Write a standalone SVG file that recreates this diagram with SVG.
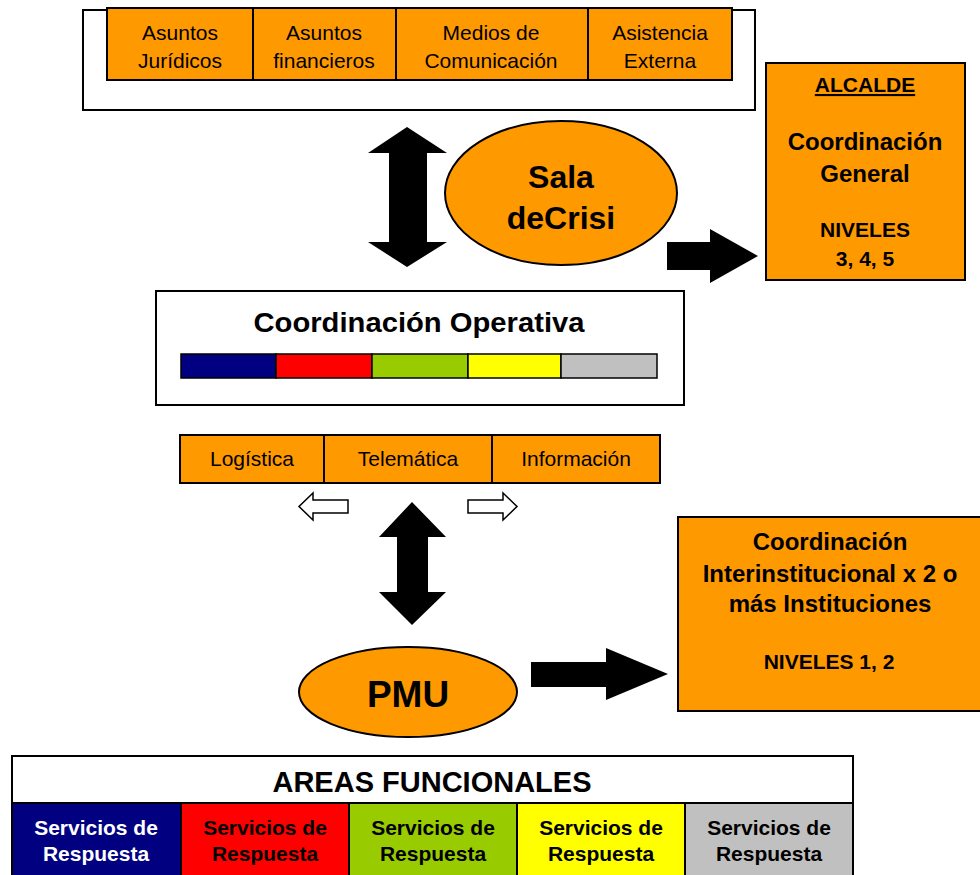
<svg xmlns="http://www.w3.org/2000/svg" width="980" height="875" viewBox="0 0 980 875">
<style>
.t{font-family:"Liberation Sans",Arial,sans-serif;text-anchor:middle;fill:#000}
.n{font-size:21px}
.b{font-weight:bold}
.org{fill:#FF9900;stroke:#000;stroke-width:2}
.wb{fill:#fff;stroke:#000;stroke-width:2}
.arr{fill:#000;stroke:none}
.harr{fill:#fff;stroke:#000;stroke-width:1.5}
</style>
<rect width="980" height="875" fill="#fff"/>
<g id="apoyo">
<rect class="wb" x="83" y="10" width="672" height="100"/>
<rect class="org" x="107" y="8" width="146" height="72"/>
<rect class="org" x="253" y="8" width="143" height="72"/>
<rect class="org" x="396" y="8" width="192" height="72"/>
<rect class="org" x="588" y="8" width="144" height="72"/>
<text class="t n" x="180" y="40">Asuntos</text><text class="t n" x="180" y="68">Jurídicos</text>
<text class="t n" x="324" y="40">Asuntos</text><text class="t n" x="324" y="68">financieros</text>
<text class="t n" x="491" y="40">Medios de</text><text class="t n" x="491" y="68">Comunicación</text>
<text class="t n" x="660" y="40">Asistencia</text><text class="t n" x="660" y="68">Externa</text>
</g>
<g id="sala">
<ellipse class="org" cx="561" cy="193" rx="116" ry="72"/>
<text class="t b" x="561" y="188" font-size="32">Sala</text>
<text class="t b" x="561" y="229" font-size="32">deCrisi</text>
</g>
<g id="alcalde">
<rect class="org" x="766" y="63" width="199" height="217"/>
<text class="t b" x="865" y="92" font-size="21" text-decoration="underline">ALCALDE</text>
<text class="t b" x="865" y="150" font-size="24">Coordinación</text>
<text class="t b" x="865" y="182" font-size="24">General</text>
<text class="t b" x="865" y="237" font-size="21">NIVELES</text>
<text class="t b" x="865" y="266" font-size="21">3, 4, 5</text>
</g>
<g id="coord-operativa">
<rect class="wb" x="156" y="291" width="528" height="114"/>
<text class="t b" x="419" y="332" font-size="27" textLength="331" lengthAdjust="spacingAndGlyphs">Coordinación Operativa</text>
<rect x="181" y="354" width="95" height="24" fill="#000080" stroke="#000" stroke-width="1.5"/>
<rect x="276" y="354" width="96" height="24" fill="#FF0000" stroke="#000" stroke-width="1.5"/>
<rect x="372" y="354" width="96" height="24" fill="#99CC00" stroke="#000" stroke-width="1.5"/>
<rect x="468" y="354" width="93" height="24" fill="#FFFF00" stroke="#000" stroke-width="1.5"/>
<rect x="561" y="354" width="96" height="24" fill="#C0C0C0" stroke="#000" stroke-width="1.5"/>
</g>
<g id="soporte">
<rect class="org" x="180" y="435" width="144" height="48" stroke-width="1.5"/>
<rect class="org" x="324" y="435" width="168" height="48" stroke-width="1.5"/>
<rect class="org" x="492" y="435" width="168" height="48" stroke-width="1.5"/>
<text class="t n" x="252" y="466">Logística</text>
<text class="t n" x="408" y="466">Telemática</text>
<text class="t n" x="576" y="466">Información</text>
</g>
<g id="pmu">
<ellipse class="org" cx="408" cy="692" rx="109" ry="45"/>
<text class="t b" x="408" y="707" font-size="37">PMU</text>
</g>
<g id="interinstitucional">
<rect class="org" x="678" y="517" width="304" height="194"/>
<text class="t b" x="830" y="550" font-size="24">Coordinación</text>
<text class="t b" x="830" y="582" font-size="24">Interinstitucional x 2 o</text>
<text class="t b" x="830" y="612" font-size="24">más Instituciones</text>
<text class="t b" x="829" y="669" font-size="21">NIVELES 1, 2</text>
</g>
<g id="areas">
<rect class="wb" x="12" y="756" width="841" height="47"/>
<text class="t b" x="432" y="792" font-size="29">AREAS FUNCIONALES</text>
<rect x="12" y="803" width="169" height="74" fill="#000080" stroke="#000" stroke-width="2"/>
<rect x="181" y="803" width="168" height="74" fill="#FF0000" stroke="#000" stroke-width="2"/>
<rect x="349" y="803" width="168" height="74" fill="#99CC00" stroke="#000" stroke-width="2"/>
<rect x="517" y="803" width="168" height="74" fill="#FFFF00" stroke="#000" stroke-width="2"/>
<rect x="685" y="803" width="168" height="74" fill="#C0C0C0" stroke="#000" stroke-width="2"/>
<g font-size="21">
<text class="t b" x="96" y="835" style="fill:#fff">Servicios de</text><text class="t b" x="96" y="861" style="fill:#fff">Respuesta</text>
<text class="t b" x="265" y="835">Servicios de</text><text class="t b" x="265" y="861">Respuesta</text>
<text class="t b" x="433" y="835">Servicios de</text><text class="t b" x="433" y="861">Respuesta</text>
<text class="t b" x="601" y="835">Servicios de</text><text class="t b" x="601" y="861">Respuesta</text>
<text class="t b" x="769" y="835">Servicios de</text><text class="t b" x="769" y="861">Respuesta</text>
</g>
</g>
<g id="connectors">
<polygon class="arr" points="407,127 447,153 427,153 427,242 447,242 407,267 368,242 389,242 389,153 368,153"/>
<polygon class="arr" points="667,242 710,242 710,229 758,256 710,283 710,270 667,270"/>
<polygon class="arr" points="412,502 446,537 428,537 428,592 446,592 412,625 379,592 397,592 397,537 379,537"/>
<polygon class="arr" points="531,662 606,662 606,648 668,674 606,700 606,687 531,687"/>
<polygon class="harr" points="348,500 313,500 313,493 299,506.5 313,520 313,513 348,513"/>
<polygon class="harr" points="468,500 503,500 503,493 517,506.5 503,520 503,513 468,513"/>
</g>
</svg>
